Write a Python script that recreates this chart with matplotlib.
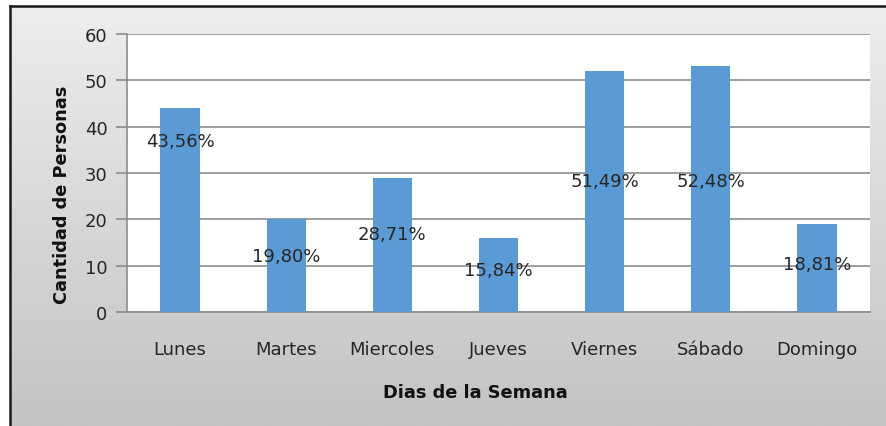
import numpy as np
import matplotlib
matplotlib.use("Agg")
import matplotlib.pyplot as plt

# data
dias = ["Lunes", "Martes", "Miercoles", "Jueves", "Viernes", "Sábado", "Domingo"]
personas = [44, 20, 29, 16, 52, 53, 19]
etiquetas = ["43,56%", "19,80%", "28,71%", "15,84%", "51,49%", "52,48%", "18,81%"]

# where excel dropped each data label (in data units)
label_y = [36.8, 12.0, 16.8, 9.0, 28.3, 28.3, 10.4]

fig = plt.figure(figsize=(8.86, 4.27), dpi=100)
fig.patch.set_facecolor("white")

# grey gradient background of the chart area
bg = fig.add_axes([10 / 886, 0, 1 - 10 / 886, 1 - 7 / 427], zorder=0)
grad = np.linspace(0, 1, 256).reshape(-1, 1)
bg.imshow(grad, aspect="auto", cmap=matplotlib.colors.LinearSegmentedColormap.from_list(
    "g", ["#ededed", "#c3c3c3"]), extent=[0, 1, 0, 1], origin="upper")
bg.set_xlim(0, 1)
bg.set_ylim(0, 1)
bg.set_xticks([])
bg.set_yticks([])
for s in ["right", "bottom"]:
    bg.spines[s].set_visible(False)
for s in ["top", "left"]:
    bg.spines[s].set_color("#1a1a1a")
    bg.spines[s].set_linewidth(1.8)

ax = fig.add_axes([127 / 886, 1 - 313 / 427, (870 - 127) / 886, (313 - 35) / 427], zorder=1)
ax.set_facecolor("white")
x = np.arange(len(dias))
ax.bar(x, personas, width=0.37, color="#5b9bd5", zorder=3)

for xi, ly, txt in zip(x, label_y, etiquetas):
    ax.text(xi, ly, txt, ha="center", va="center", fontsize=13, color="#262626", zorder=4)

ax.set_xlim(-0.5, len(dias) - 0.5)
ax.set_ylim(0, 60)
ax.set_yticks(range(0, 61, 10))
ax.yaxis.grid(True, color="#8c8c8c", linewidth=1.2, zorder=1)
ax.set_axisbelow(True)
ax.set_xticks(x)
ax.set_xticklabels(dias)
ax.tick_params(axis="x", length=0, pad=20, labelsize=13, colors="#262626")
ax.tick_params(axis="y", length=8, width=1.2, color="#8c8c8c", pad=6, labelsize=13, labelcolor="#262626")
for s in ["top", "right"]:
    ax.spines[s].set_visible(False)
ax.spines["left"].set_color("#8c8c8c")
ax.spines["bottom"].set_color("#8c8c8c")
ax.spines["left"].set_linewidth(1.2)
ax.spines["bottom"].set_linewidth(1.2)

fig.text(475 / 886, 1 - 393 / 427, "Dias de la Semana", ha="center", va="center",
         fontsize=12.8, fontweight="bold", color="#111111")
fig.text(62 / 886, 1 - 195 / 427, "Cantidad de Personas", ha="center", va="center",
         rotation=90, fontsize=12.8, fontweight="bold", color="#111111")

fig.savefig("out.png", dpi=100)
